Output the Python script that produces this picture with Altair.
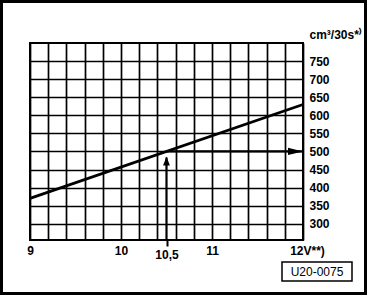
import altair as alt
import pandas as pd

# ---- data ----
volt = [9.0, 12.0]                 # V
flow = [370, 630]                  # cm3/30s
reading_v = 10.5
reading_flow = 500

x_grid = [9.0, 9.2, 9.4, 9.6, 9.8, 10.0, 10.2, 10.4, 10.6, 10.8,
          11.0, 11.2, 11.4, 11.6, 11.8, 12.0]
x_label_vals = [9, 10, 10.5, 11, 12]
x_label_text = ["9", "10", "10,5", "11", "12V**)"]
y_ticks = [300, 350, 400, 450, 500, 550, 600, 650, 700, 750]
y_domain = [255, 800]
x_domain = [9, 12]
ref_code = "U20-0075"

FONT = "Liberation Sans"

line_df = pd.DataFrame({"v": volt, "q": flow})
vert_df = pd.DataFrame({"v": [reading_v], "q0": [y_domain[0]], "q1": [reading_flow]})
horiz_df = pd.DataFrame({"v0": [reading_v], "v1": [x_domain[1]], "q": [reading_flow]})
head_up = pd.DataFrame({"v": [reading_v], "q": [reading_flow]})
head_right = pd.DataFrame({"v": [x_domain[1]], "q": [reading_flow]})

label_expr = " : ".join(
    f"datum.value == {v} ? '{t}'" for v, t in zip(x_label_vals, x_label_text)
) + " : ''"

x_scale = alt.Scale(domain=x_domain, nice=False, zero=False)
y_scale = alt.Scale(domain=y_domain, nice=False, zero=False)

x_axis = alt.Axis(
    values=sorted(x_grid + [reading_v]),
    tickCount=100,
    labelExpr=label_expr,
    grid=True, gridColor="black", gridWidth=1.7,
    gridOpacity={"condition": {"test": f"datum.value == {reading_v}", "value": 0}, "value": 1},
    domain=False,
    ticks=True, tickColor="black", tickSize=6, tickWidth=2,
    tickOpacity={"condition": {"test": f"datum.value == {reading_v}", "value": 1}, "value": 0},
    labelPadding={"condition": {"test": f"datum.value == {reading_v}", "value": 3}, "value": -1},
    labelOffset={"condition": {"test": "datum.value == 12", "value": 4}, "value": 0},
    labelFlush=False, labelOverlap=False, labelBound=False,
    labelFont=FONT, labelFontSize=12, labelFontWeight="bold", labelColor="black",
    title=None,
)

y_axis = alt.Axis(
    orient="right",
    values=y_ticks,
    tickCount=100,
    grid=True, gridColor="black", gridWidth=1.7,
    domain=False, ticks=False,
    labelAlign="left", labelBaseline="middle", labelPadding=6,
    labelFlush=False, labelOverlap=False,
    labelFont=FONT, labelFontSize=12, labelFontWeight="bold", labelColor="black",
    title="cm³/30s*⁾", titleAngle=0, titleAlign="left", titleBaseline="bottom",
    titleX=6, titleY=-2, titleFont=FONT, titleFontSize=12, titleFontWeight="bold",
    titleColor="black",
)

line = alt.Chart(line_df).mark_line(color="black", strokeWidth=2.8).encode(
    x=alt.X("v:Q", scale=x_scale, axis=x_axis),
    y=alt.Y("q:Q", scale=y_scale, axis=y_axis),
)

vert = alt.Chart(vert_df).mark_rule(color="black", strokeWidth=2.2, y2Offset=6).encode(
    x="v:Q", y="q0:Q", y2="q1:Q",
)
horiz = alt.Chart(horiz_df).mark_rule(color="black", strokeWidth=2.2).encode(
    x="v0:Q", x2="v1:Q", y="q:Q",
)
arrow_up = alt.Chart(head_up).mark_point(
    shape="M0,0L-0.38,1L0.38,1Z", filled=True, color="black", opacity=1, strokeWidth=0,
    yOffset=5,
).encode(x="v:Q", y="q:Q", size=alt.value(324))
arrow_right = alt.Chart(head_right).mark_point(
    shape="M0,0L-1,-0.24L-1,0.24Z", filled=True, color="black", opacity=1, strokeWidth=0
).encode(x="v:Q", y="q:Q", size=alt.value(900))

# decorative frame and reference-code box (outside the plot area)
frame = alt.Chart(pd.DataFrame({"a": [0]})).mark_rect(
    fill=None, stroke="black", strokeWidth=3
).encode(x=alt.value(-28.5), x2=alt.value(335.5), y=alt.value(-41.5), y2=alt.value(250.5))
code_box = alt.Chart(pd.DataFrame({"a": [0]})).mark_rect(
    fill="white", stroke="black", strokeWidth=1.5
).encode(x=alt.value(252), x2=alt.value(322), y=alt.value(219), y2=alt.value(238))
code_text = alt.Chart(pd.DataFrame({"t": [ref_code]})).mark_text(
    font=FONT, fontSize=12, color="black", align="center", baseline="middle"
).encode(text="t:N", x=alt.value(287), y=alt.value(229))

chart = alt.layer(
    line, vert, horiz, arrow_up, arrow_right, frame, code_box, code_text
).properties(
    width=273, height=197,
    autosize=alt.AutoSizeParams(type="none"),
    padding={"left": 30, "top": 43, "right": 67, "bottom": 56},
    background="white",
).configure_view(stroke="black", strokeWidth=2)

chart.save("out.html", embed_options={"renderer": "svg", "actions": False})
